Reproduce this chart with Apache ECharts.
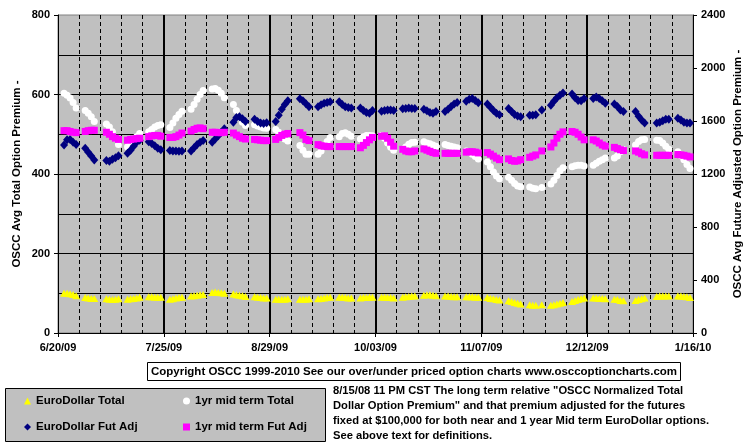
<!DOCTYPE html>
<html><head><meta charset="utf-8">
<script src="https://cdn.jsdelivr.net/npm/echarts@6/dist/echarts.min.js"></script>
<style>html,body{margin:0;padding:0;background:#fff}#c{width:755px;height:446px}</style>
</head><body><div id="c"></div>
<script>
// ---- data ----
var startDate = '2009-06-20';           // left edge of the x axis
var firstTradingDay = '2009-06-22';
var lastTradingDay = '2010-01-15';
var holidays = ['2009-07-03','2009-09-07','2009-11-26','2009-12-25','2010-01-01'];
var tickLabels = ['6/20/09','7/25/09','8/29/09','10/03/09','11/07/09','12/12/09','1/16/10'];
var seriesNames = ['EuroDollar Total','1yr mid term Total','EuroDollar Fut Adj','1yr mid term Fut Adj'];
var leftAxisName = 'OSCC Avg Total Option Premium -';
var rightAxisName = 'OSCC Avg Future Adjusted Option Premium -';

// EuroDollar Total (left axis)
var euroTotal = [
100,100,99,97,94, 89,88,87,87, 86,85,84,85,86, 85,86,87,88,90, 91,91,90,90,90,
85,86,88,89,90, 93,94,95,96,97, 102,103,102,101,100, 98,96,95,94,92, 91,90,89,88,88,
85,85,85,85,86, 85,85,85,86, 86,87,88,89,90, 90,90,89,88,88, 88,89,89,90,90,
90,90,89,89,88, 90,91,92,93,93, 95,96,96,95,94, 93,93,92,91,91, 91,91,91,90,90,
89,87,86,84,83, 81,79,77,75,73, 71,70,70,71, 70,71,73,75,77, 79,82,84,86,88,
88,88,87,87,86, 85,84,82,81, 82,84,86,88, 92,93,93,93,93, 93,93,92,91,89
];
// 1yr mid term Total (left axis)
var midTotal = [
603,598,591,580,566, 560,553,544,532, 526,518,506,490,474, 468,476,485,494,502, 506,512,518,522,524,
517,528,540,550,558, 563,575,588,600,610, 614,615,611,603,592, 575,560,542,530,522, 524,521,518,516,515,
512,505,496,488,483, 472,460,450,450, 450,458,470,482,492, 494,502,504,500,495, 488,494,497,497,496,
497,490,478,467,460, 462,468,475,479,480, 481,478,476,473,470, 474,472,470,468,466, 458,455,450,444,438,
430,418,405,395,388, 392,384,376,370,368, 367,364,363,366, 375,384,396,408,416, 418,421,422,422,420,
422,427,432,436,440, 440,445,456,461, 473,482,486,487, 485,484,478,470,462, 456,446,436,424,414
];
// EuroDollar Fut Adj (right axis)
var euroFutAdj = [
1419,1458,1461,1440,1422, 1395,1365,1335,1305, 1302,1296,1311,1323,1338, 1356,1380,1410,1440,1455, 1443,1431,1413,1395,1383,
1377,1374,1374,1371,1374, 1374,1398,1422,1440,1452, 1440,1464,1488,1515,1542, 1590,1626,1632,1617,1596, 1614,1596,1584,1581,1587,
1596,1644,1689,1725,1752, 1767,1752,1731,1707, 1707,1722,1734,1740,1746, 1746,1725,1707,1701,1698, 1698,1680,1665,1659,1680,
1674,1680,1683,1683,1680, 1692,1695,1698,1695,1695, 1689,1677,1665,1659,1671, 1671,1689,1710,1728,1740, 1749,1764,1770,1755,1737,
1728,1704,1680,1659,1647, 1695,1671,1650,1638,1632, 1644,1644,1647,1683, 1719,1749,1776,1794,1812, 1803,1776,1755,1752,1770,
1770,1782,1770,1752,1734, 1728,1710,1683,1671, 1671,1635,1608,1584, 1584,1590,1602,1614,1614, 1620,1608,1590,1584,1584
];
// 1yr mid term Fut Adj (right axis)
var midFutAdj = [
1527,1527,1521,1515,1512, 1521,1527,1530,1530, 1515,1500,1482,1470,1461, 1455,1461,1464,1467,1470, 1482,1488,1491,1491,1485,
1476,1476,1482,1494,1509, 1524,1536,1545,1548,1542, 1515,1515,1512,1512,1515, 1509,1494,1482,1470,1464, 1461,1458,1455,1452,1452,
1461,1476,1491,1500,1506, 1512,1494,1461,1452, 1422,1413,1410,1407,1407, 1407,1407,1407,1407,1407, 1398,1416,1437,1458,1476,
1485,1488,1470,1440,1410, 1386,1374,1368,1368,1374, 1389,1380,1371,1362,1356, 1356,1356,1356,1356,1356, 1365,1368,1368,1365,1359,
1362,1350,1335,1320,1308, 1314,1302,1296,1299,1308, 1326,1335,1344,1374, 1404,1434,1470,1500,1518, 1521,1515,1500,1479,1458,
1458,1449,1434,1419,1410, 1401,1392,1383,1377, 1374,1365,1353,1344, 1341,1341,1341,1341,1341, 1347,1344,1341,1335,1329
];

// ---- trading day positions (days since startDate) ----
function utc(s){var p=s.split('-');return Date.UTC(+p[0],+p[1]-1,+p[2]);}
var DAY = 86400000;
var days = [];
for (var t = utc(firstTradingDay); t <= utc(lastTradingDay); t += DAY) {
  var d = new Date(t), wd = d.getUTCDay();
  var iso = d.toISOString().slice(0,10);
  if (wd === 0 || wd === 6 || holidays.indexOf(iso) >= 0) continue;
  days.push((t - utc(startDate)) / DAY);
}
function pairs(arr){return days.map(function(x,i){return [x, arr[i]];});}
var span = 35 * (tickLabels.length - 1);

var FONT = '"Liberation Sans", Arial, sans-serif';
var lbl = {color:'#000', fontFamily:FONT, fontWeight:'bold', fontSize:11};
var lbl2 = {color:'#000', fontFamily:FONT, fontWeight:'bold', fontSize:11.5};

function leg(name, left, top){
  return {left:left, top:top, padding:0, itemWidth:7, itemHeight:7, z:10, data:[name], textStyle:lbl2};
}

var chart = echarts.init(document.getElementById('c'), null, {renderer:'canvas'});
chart.setOption({
  animation:false,
  backgroundColor:'#fff',
  grid:{left:58, right:62, top:15, bottom:113, show:true, backgroundColor:'#c0c0c0', borderColor:'#808080', borderWidth:1},
  xAxis:{
    type:'value', min:0, max:span, interval:35,
    axisLine:{lineStyle:{color:'#000', width:1}},
    axisTick:{show:true, length:4, lineStyle:{color:'#000'}},
    axisLabel:Object.assign({margin:9, formatter:function(v){return tickLabels[Math.round(v/35)];}}, lbl),
    splitLine:{show:true, showMinLine:false, showMaxLine:false, lineStyle:{color:'#000', width:2}},
    minorTick:{show:false, splitNumber:5},
    minorSplitLine:{show:true, lineStyle:{color:'#000', width:1, type:[4,3]}}
  },
  yAxis:[{
    type:'value', min:0, max:800, interval:200, position:'left',
    axisLine:{show:true, lineStyle:{color:'#000'}},
    axisTick:{show:true, length:4, lineStyle:{color:'#000'}},
    axisLabel:Object.assign({margin:8, formatter:function(v){return String(v);}}, lbl),
    splitLine:{show:true, showMaxLine:false, lineStyle:{color:'#000', width:1}},
    minorTick:{show:false, splitNumber:2},
    minorSplitLine:{show:true, lineStyle:{color:'#000', width:1}}
  },{
    type:'value', min:0, max:2400, interval:400, position:'right',
    axisLine:{show:true, lineStyle:{color:'#000'}},
    axisTick:{show:true, length:4, lineStyle:{color:'#000'}},
    axisLabel:Object.assign({margin:8, formatter:function(v){return String(v);}}, lbl),
    splitLine:{show:false}
  }],
  legend:[
    leg(seriesNames[0], 24, 395),
    leg(seriesNames[1], 183, 395),
    leg(seriesNames[2], 24, 421),
    leg(seriesNames[3], 183, 421)
  ],
  graphic:[
    {type:'text', z:1, x:17, y:174, rotation:Math.PI/2, style:{text:leftAxisName, align:'center', verticalAlign:'middle', fill:'#000', font:'bold 11.5px '+FONT}},
    {type:'text', z:1, x:738, y:174, rotation:Math.PI/2, style:{text:rightAxisName, align:'center', verticalAlign:'middle', fill:'#000', font:'bold 11.5px '+FONT}},
    {type:'rect', z:0, shape:{x:5.5, y:388.5, width:320, height:53}, style:{fill:'#c0c0c0', stroke:'#000', lineWidth:1}},
    {type:'rect', z:0, shape:{x:147.5, y:362.5, width:533, height:18}, style:{fill:'#fff', stroke:'#000', lineWidth:1}},
    {type:'text', z:1, x:414, y:372, style:{text:'Copyright OSCC 1999-2010 See our over/under priced option charts www.osccoptioncharts.com', align:'center', verticalAlign:'middle', fill:'#000', font:'bold 11.5px '+FONT}},
    {type:'text', z:1, x:333, y:383, style:{text:'8/15/08 11 PM CST The long term relative "OSCC Normalized Total\nDollar Option Premium" and that premium adjusted for the futures\nfixed at $100,000 for both near and 1 year Mid term EuroDollar options.\nSee above text for definitions.', lineHeight:15, align:'left', verticalAlign:'top', fill:'#000', font:'bold 11.2px '+FONT}}
  ],
  series:[
    {name:seriesNames[0], type:'scatter', yAxisIndex:0, symbol:'triangle', symbolSize:[8,7], itemStyle:{color:'#ffff00', opacity:1}, data:pairs(euroTotal), z:2},
    {name:seriesNames[1], type:'scatter', yAxisIndex:0, symbol:'circle', symbolSize:7, itemStyle:{color:'#ffffff', opacity:1}, data:pairs(midTotal), z:3},
    {name:seriesNames[2], type:'scatter', yAxisIndex:1, symbol:'diamond', symbolSize:[8,9], itemStyle:{color:'#000080', opacity:1}, data:pairs(euroFutAdj), z:4},
    {name:seriesNames[3], type:'scatter', yAxisIndex:1, symbol:'rect', symbolSize:7, itemStyle:{color:'#ff00ff', opacity:1}, data:pairs(midFutAdj), z:5}
  ]
});
</script></body></html>
